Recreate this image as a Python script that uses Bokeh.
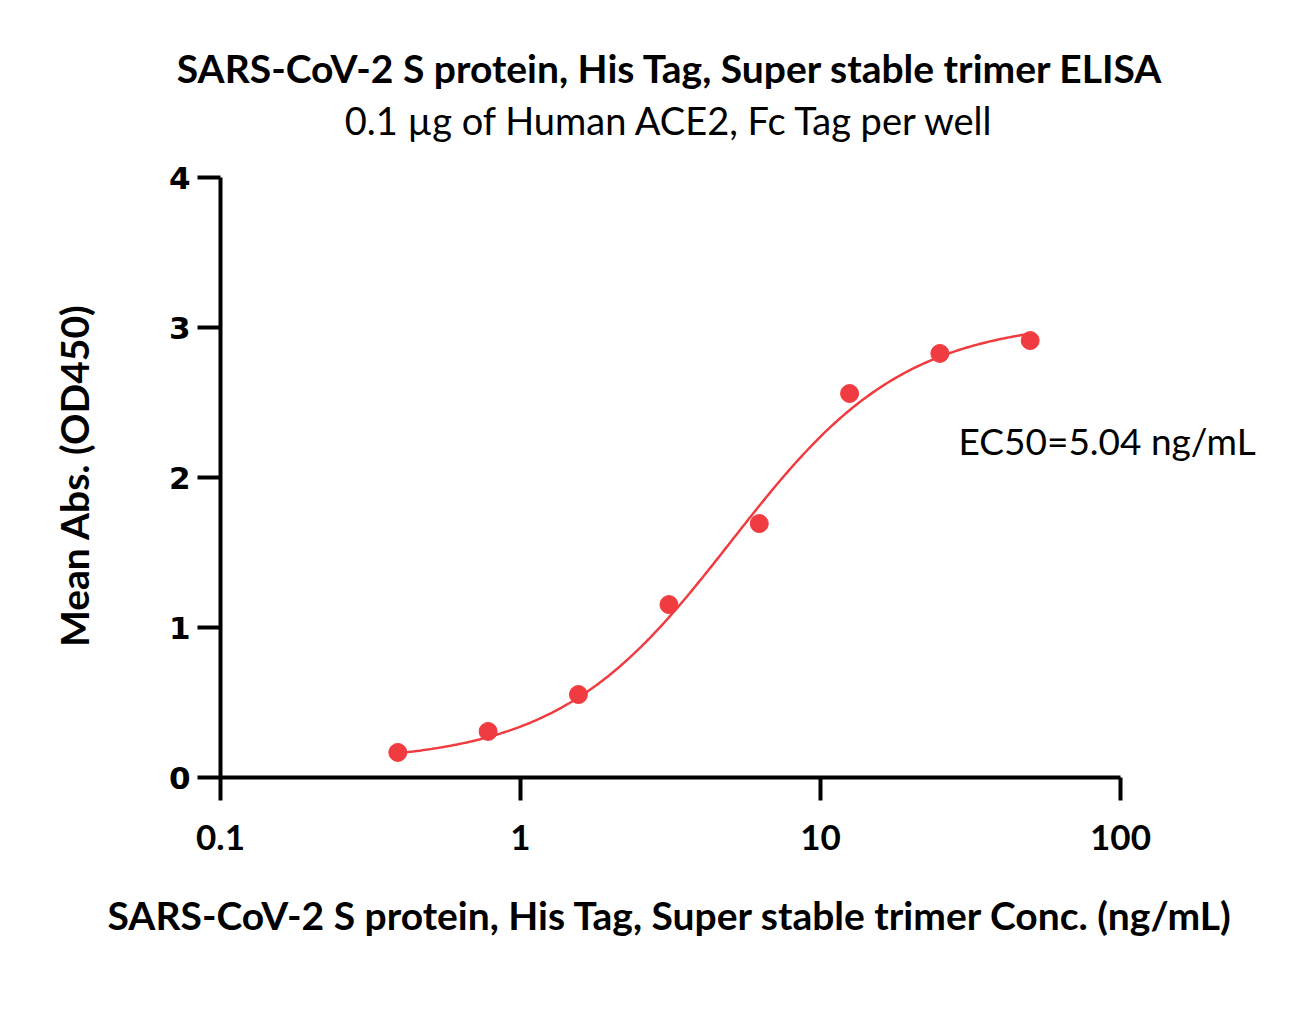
import numpy as np
from bokeh.plotting import figure
from bokeh.models import Label, FixedTicker, CustomJSTickFormatter, Range1d
from bokeh.embed import file_html
from bokeh.resources import INLINE

# data
conc = [0.39, 0.78, 1.56, 3.125, 6.25, 12.5, 25, 50]
od450 = [0.167, 0.307, 0.553, 1.153, 1.693, 2.56, 2.827, 2.913]
x_ticks = [0.1, 1, 10, 100]
y_ticks = [0, 1, 2, 3, 4]

# 4PL fit parameters (fit shown on chart)
fit_bottom = 0.10
fit_top = 3.05
fit_ec50 = 5.04
fit_hill = 1.5

title = "SARS-CoV-2 S protein, His Tag, Super stable trimer ELISA"
subtitle = "0.1 \u00b5g of Human ACE2, Fc Tag per well"
x_label = "SARS-CoV-2 S protein, His Tag, Super stable trimer Conc. (ng/mL)"
y_label = "Mean Abs. (OD450)"
ec50_text = "EC50=5.04 ng/mL"

RED = "#F03C41"
FONT = "Lato"
W, H = 1297, 1032
# layout in canvas pixels: x=0.1 at 220, 300 px per decade; y=0 at 777, 150 px per unit
X0, DEC = 220, 300.0
Y0, UNIT = 777, 150.0

x_start = 10 ** (-1 - X0 / DEC)
x_end = 10 ** (-1 + (W - X0) / DEC)
y_start = -(H - Y0) / UNIT
y_end = Y0 / UNIT

p = figure(width=W, height=H, x_axis_type="log", output_backend="svg",
           toolbar_location=None, x_range=Range1d(x_start, x_end),
           y_range=Range1d(y_start, y_end),
           min_border_left=0, min_border_right=0, min_border_top=0,
           min_border_bottom=0)
p.title.visible = False
p.outline_line_color = None
p.xgrid.visible = False
p.ygrid.visible = False
p.background_fill_color = "white"
p.border_fill_color = "white"

xs = np.logspace(np.log10(conc[0]), np.log10(conc[-1]), 300)
ys = fit_bottom + (fit_top - fit_bottom) / (1 + (fit_ec50 / xs) ** fit_hill)
p.line(xs, ys, line_color=RED, line_width=2.5)
p.scatter(conc, od450, size=18, fill_color=RED, line_color=RED)

for ax in (p.xaxis[0], p.yaxis[0]):
    ax.axis_line_width = 4
    ax.axis_line_color = "black"
    ax.major_tick_line_width = 4
    ax.major_tick_in = 0
    ax.major_tick_out = 23
    ax.minor_tick_line_color = None
    ax.major_label_text_font_style = "bold"
    ax.major_label_text_color = "black"

p.xaxis.fixed_location = 0
p.xaxis.bounds = (x_ticks[0], x_ticks[-1])
p.xaxis.ticker = FixedTicker(ticks=x_ticks)
p.xaxis.formatter = CustomJSTickFormatter(code="return tick.toString();")
p.xaxis.major_label_text_font = FONT
p.xaxis.major_label_text_font_size = "35px"
p.xaxis.major_label_standoff = 24

p.yaxis.fixed_location = x_ticks[0]
p.yaxis.bounds = (y_ticks[0], y_ticks[-1])
p.yaxis.ticker = FixedTicker(ticks=y_ticks)
p.yaxis.major_label_text_font = "DejaVu Sans"
p.yaxis.major_label_text_font_size = "31px"
p.yaxis.major_label_standoff = 7

def lab(text, x, y, size, bold, angle=0.0, align="center"):
    # x, y given in canvas pixels (top-left origin)
    p.add_layout(Label(x=x, y=H - y, x_units="screen", y_units="screen", text=text,
                       text_font=FONT, text_font_size=size,
                       text_font_style="bold" if bold else "normal",
                       text_align=align, text_baseline="middle", angle=angle,
                       text_color="black"))

lab(title, 670, 67, "39px", True)
lab(subtitle, 670, 119, "38px", False)
lab(x_label, 670, 914, "39px", True)
lab(y_label, 73, 475, "39px", True, angle=np.pi / 2)
lab(ec50_text, 958, 440, "37px", False, align="left")

open("out.html", "w").write(file_html(p, INLINE))
